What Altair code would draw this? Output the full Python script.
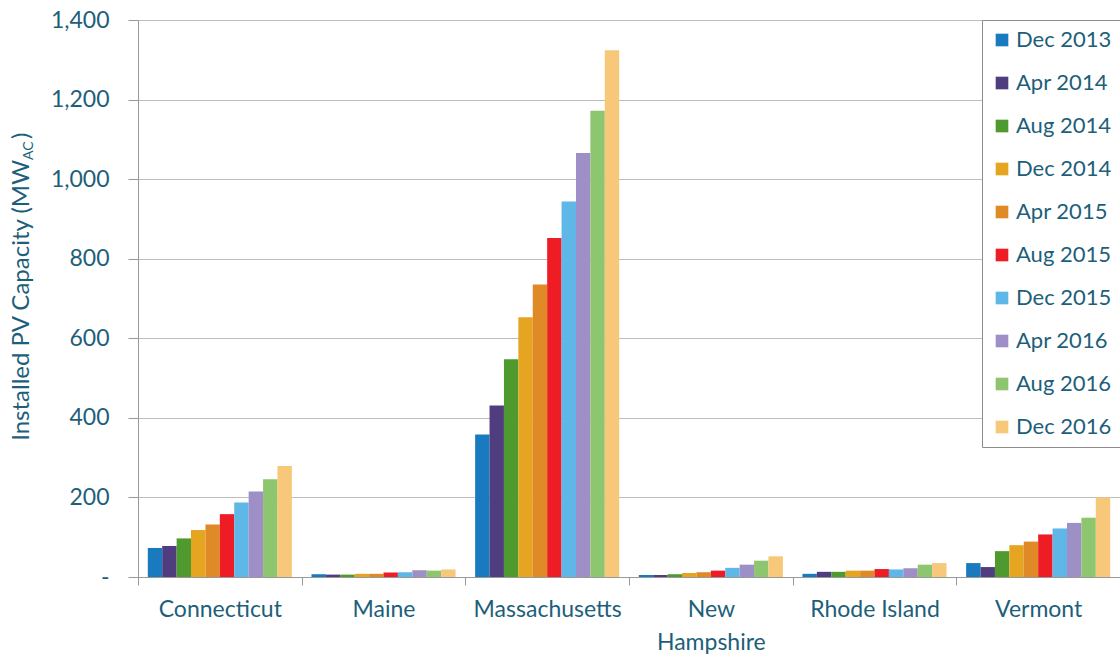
import altair as alt
import pandas as pd

states = ["Connecticut", "Maine", "Massachusetts", "New Hampshire", "Rhode Island", "Vermont"]
periods = ["Dec 2013", "Apr 2014", "Aug 2014", "Dec 2014", "Apr 2015",
           "Aug 2015", "Dec 2015", "Apr 2016", "Aug 2016", "Dec 2016"]
colors = ["#1a7abf", "#4f3d7f", "#4e9a2e", "#e6a521", "#e08a27",
          "#ee1c25", "#5fb7e8", "#9e8fc7", "#8dc66e", "#f7c77a"]

connecticut = [73, 78, 97, 118, 132, 158, 187, 215, 246, 279]
maine = [7, 6, 6, 8, 8, 11, 12, 17, 16, 19]
massachusetts = [358, 431, 547, 653, 735, 852, 944, 1066, 1172, 1324]
new_hampshire = [5, 5, 7, 10, 12, 16, 23, 31, 41, 52]
rhode_island = [8, 13, 13, 16, 16, 20, 19, 22, 31, 35]
vermont = [35, 25, 65, 80, 89, 107, 122, 136, 149, 200]

series = [connecticut, maine, massachusetts, new_hampshire, rhode_island, vermont]
rows = []
for s, vals in zip(states, series):
    for p, v in zip(periods, vals):
        rows.append({"state": s, "period": p, "value": v})
df = pd.DataFrame(rows)

TXT = "#1d5f7a"
FONT = "Lato"

bars = alt.Chart(df).mark_bar().encode(
    x=alt.X("state:N", sort=states, title=None,
            scale=alt.Scale(paddingInner=0, paddingOuter=0),
            axis=alt.Axis(tickBand="extent", labelAngle=0, labelFontSize=23,
                          labelColor=TXT, labelFont=FONT, labelPadding=13,
                          tickSize=8, tickColor="#999999", domainColor="#999999",
                          labelLineHeight=33,
                          labelExpr="datum.label == 'New Hampshire' ? ['New', 'Hampshire'] : datum.label")),
    xOffset=alt.XOffset("period:N", sort=periods,
                        scale=alt.Scale(paddingInner=0, paddingOuter=0.68)),
    y=alt.Y("value:Q", title=None,
            scale=alt.Scale(domain=[0, 1400], nice=False),
            axis=alt.Axis(values=[0, 200, 400, 600, 800, 1000, 1200, 1400],
                          labelExpr="datum.value == 0 ? '-' : format(datum.value, ',')",
                          labelFontSize=23, labelColor=TXT, labelFont=FONT,
                          labelPadding=19, tickSize=10, tickColor="#999999",
                          domainColor="#999999", gridColor="#bdbdbd")),
    color=alt.Color("period:N", sort=periods,
                    scale=alt.Scale(domain=periods, range=colors),
                    legend=alt.Legend(title=None, orient="none", legendX=844, legendY=0,
                                      symbolType="square", symbolSize=160,
                                      symbolStrokeWidth=0, labelFontSize=22,
                                      labelFont=FONT, labelColor=TXT, rowPadding=21,
                                      padding=9, labelOffset=3,
                                      strokeColor="#8c8c8c", fillColor="white")),
)

title_main = alt.Chart(pd.DataFrame({"t": ["Installed PV Capacity (MW"]})).mark_text(
    angle=270, align="right", baseline="middle", fontSize=24, font=FONT, color=TXT
).encode(x=alt.value(-116), y=alt.value(140), text="t:N")

title_sub = alt.Chart(pd.DataFrame({"t": ["AC"]})).mark_text(
    angle=270, align="left", baseline="middle", fontSize=14, font=FONT, color=TXT
).encode(x=alt.value(-109), y=alt.value(140), text="t:N")

title_end = alt.Chart(pd.DataFrame({"t": [")"]})).mark_text(
    angle=270, align="left", baseline="middle", fontSize=24, font=FONT, color=TXT
).encode(x=alt.value(-116), y=alt.value(119), text="t:N")

chart = alt.layer(bars, title_main, title_sub, title_end).properties(
    width=982, height=557,
    autosize=alt.AutoSizeParams(type="none"),
    padding={"left": 138, "top": 20, "right": 0, "bottom": 83},
    background="white",
).configure_view(stroke=None)

chart.save("out.html", embed_options={"renderer": "svg", "actions": False})
